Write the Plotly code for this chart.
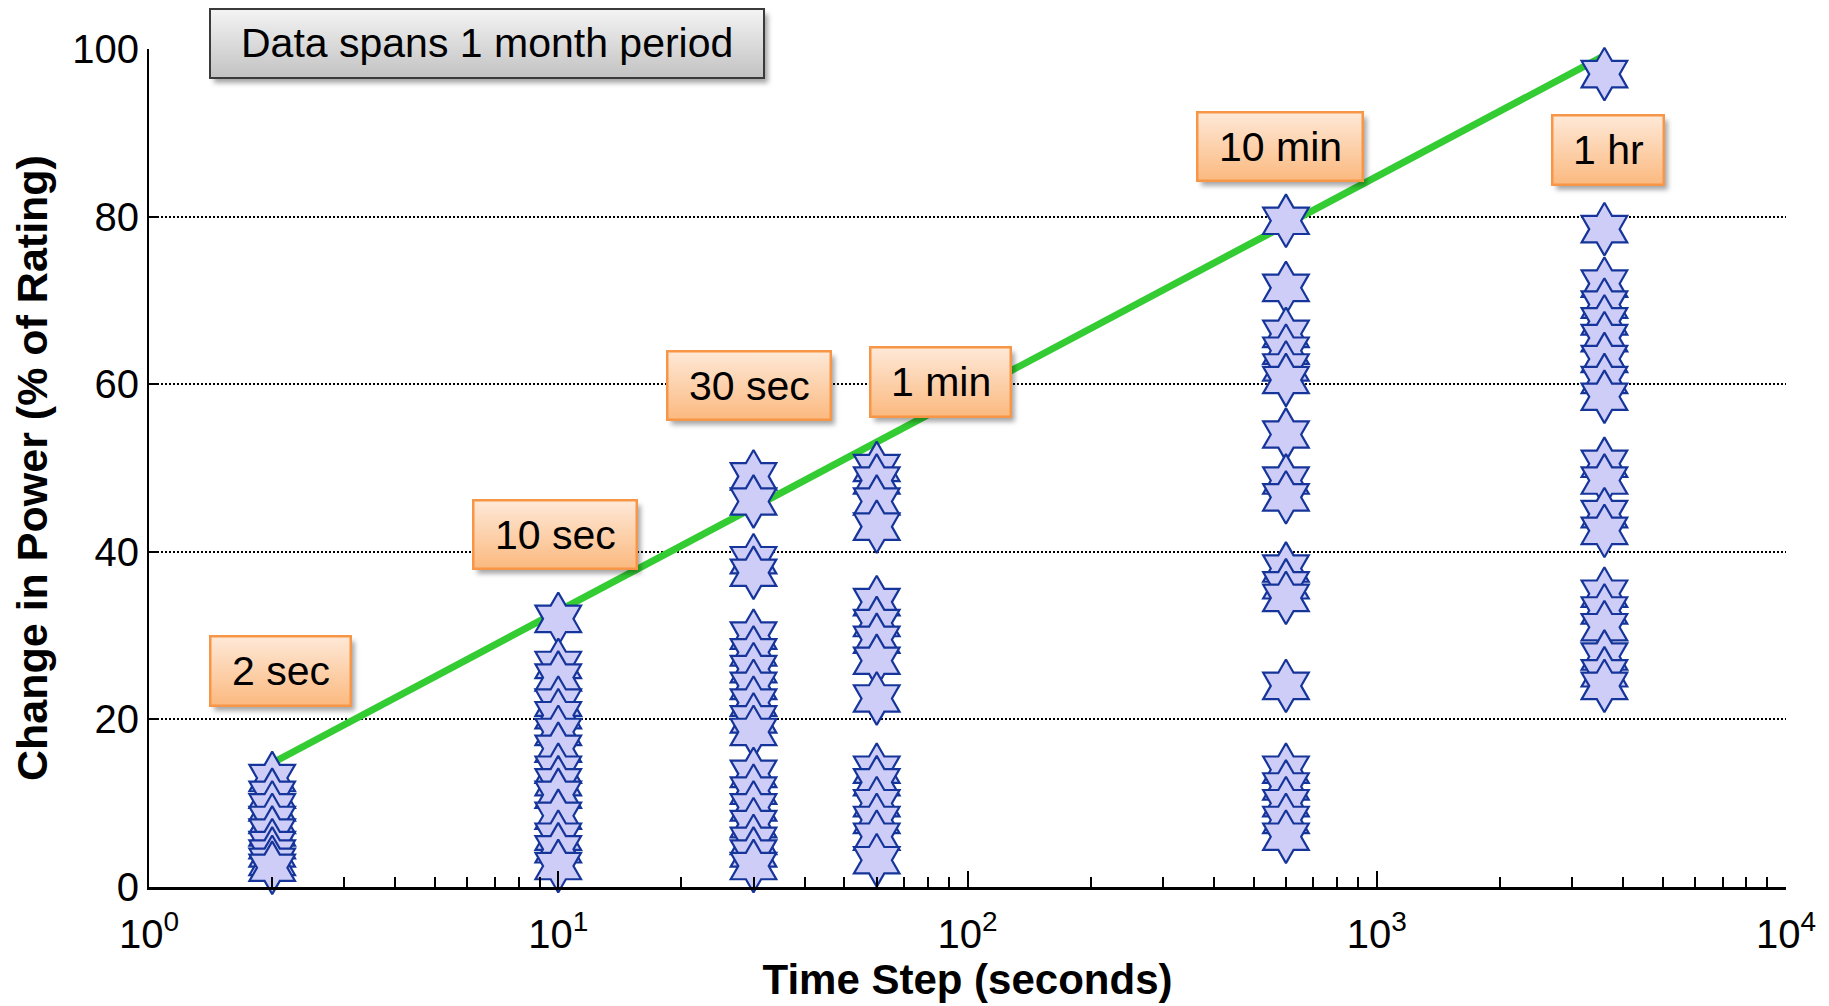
import base64
import plotly.graph_objects as go

# ---------------- data ----------------
time_steps = [2, 10, 30, 60, 600, 3600]
vals_2s = [13, 11, 9.5, 8, 6.5, 5, 4, 3, 2.3]
vals_10s = [32, 26.5, 25, 22, 20.5, 18.5, 16.5, 14, 12.5, 11, 8.5, 6, 4.5, 2.5]
vals_30s = [49, 46, 39, 37.5, 30, 28, 26, 24, 22, 20, 18.5, 13.5, 11.5, 9.5, 7.5, 5.5, 4, 2.5]
vals_1m = [50, 48.5, 46, 43, 34, 31.5, 29.5, 27, 22.5, 14, 12.5, 10, 8, 6, 3.2]
vals_10m = [79.5, 71.5, 66, 64, 62, 60.5, 54, 48.5, 46.5, 38, 36, 34.5, 24, 14, 12, 10, 8, 6]
vals_1h = [97, 78.5, 72, 69.5, 67.5, 65.5, 63, 60.5, 58.5, 50.5, 48.5, 44.5, 42.5, 35, 33, 31, 27.5, 25.5, 24]
all_vals = [vals_2s, vals_10s, vals_30s, vals_1m, vals_10m, vals_1h]

trend_x = [2, 3600]
trend_y = [14.8, 99.2]

box_labels = ["Data spans 1 month period", "2 sec", "10 sec", "30 sec", "1 min", "10 min", "1 hr"]
x_tick_vals = [1, 10, 100, 1000, 10000]
x_tick_text = ["10<sup>0</sup>", "10<sup>1</sup>", "10<sup>2</sup>", "10<sup>3</sup>", "10<sup>4</sup>"]
y_tick_vals = [0, 20, 40, 60, 80, 100]

# ---------------- layout constants (page pixels) ----------------
W, H = 1829, 1006
OFF = 8                      # default body margin of the html page
PLOT_L, PLOT_R, PLOT_T, PLOT_B = 149, 1786, 49, 887
PW, PH = PLOT_R - PLOT_L, PLOT_B - PLOT_T
FONT = "Liberation Sans, Arial, sans-serif"

# box placement in page pixels: left, top, width, height, style
box_geom = [
    (209, 8, 556, 71, "gray"),
    (209, 635, 143, 72, "orange"),
    (472, 499, 166, 71, "orange"),
    (666, 350, 166, 71, "orange"),
    (869, 346, 143, 72, "orange"),
    (1196, 111, 168, 71, "orange"),
    (1551, 114, 114, 72, "orange"),
]
styles = {
    "orange": ("#fee9d8", "#fbb97f", "#f79646", 2.5),
    "gray": ("#f4f4f4", "#c2c2c2", "#3a3a3a", 2),
}


def box_svg(w, h, top, bottom, stroke, sw, pad=10):
    svg = (
        f'<svg xmlns="http://www.w3.org/2000/svg" width="{w+pad}" height="{h+pad}" '
        f'viewBox="0 0 {w+pad} {h+pad}" preserveAspectRatio="none">'
        '<defs><linearGradient id="g" x1="0" y1="0" x2="0" y2="1">'
        f'<stop offset="0" stop-color="{top}"/><stop offset="1" stop-color="{bottom}"/>'
        '</linearGradient><filter id="f" x="-20%" y="-20%" width="140%" height="140%">'
        '<feGaussianBlur stdDeviation="2.5"/></filter></defs>'
        f'<rect x="{sw/2+4}" y="{sw/2+5}" width="{w-sw}" height="{h-sw}" fill="rgba(0,0,0,0.35)" filter="url(#f)"/>'
        f'<rect x="{sw/2}" y="{sw/2}" width="{w-sw}" height="{h-sw}" fill="url(#g)" stroke="{stroke}" stroke-width="{sw}"/>'
        '</svg>'
    )
    return "data:image/svg+xml;base64," + base64.b64encode(svg.encode()).decode()


fig = go.Figure()

fig.add_trace(go.Scatter(
    x=trend_x, y=trend_y, mode="lines",
    line=dict(color="#33cc33", width=7),
    hoverinfo="skip", showlegend=False,
))

for t, vals in zip(time_steps, all_vals):
    fig.add_trace(go.Scatter(
        x=[t] * len(vals), y=vals, mode="markers",
        marker=dict(symbol="hexagram", size=40, color="#cdcdf7",
                    line=dict(color="#16359a", width=2.2)),
        cliponaxis=False, showlegend=False,
    ))

images = []
annotations = []
pad = 10
for label, (left, top, bw, bh, style) in zip(box_labels, box_geom):
    c_top, c_bot, stroke, sw = styles[style]
    images.append(dict(
        source=box_svg(bw, bh, c_top, c_bot, stroke, sw, pad),
        xref="paper", yref="paper",
        x=(left - PLOT_L) / PW, y=(PLOT_B - top) / PH,
        sizex=(bw + pad) / PW, sizey=(bh + pad) / PH,
        xanchor="left", yanchor="top", sizing="stretch", layer="above",
    ))
    annotations.append(dict(
        text=label, xref="paper", yref="paper",
        x=(left + bw / 2 - PLOT_L) / PW, y=(PLOT_B - top - bh / 2) / PH,
        xanchor="center", yanchor="middle", showarrow=False,
        font=dict(family=FONT, size=41, color="black"),
    ))

fig.update_layout(
    width=W - OFF, height=H - OFF,
    margin=dict(l=PLOT_L - OFF, r=W - PLOT_R, t=PLOT_T - OFF, b=H - PLOT_B),
    paper_bgcolor="white", plot_bgcolor="white",
    font=dict(family=FONT, color="black"),
    images=images, annotations=annotations,
    showlegend=False,
)

fig.update_xaxes(
    type="log", range=[0, 4],
    tickmode="array", tickvals=x_tick_vals, ticktext=x_tick_text,
    ticks="inside", ticklen=16, tickwidth=2, tickcolor="black",
    ticklabelstandoff=10,
    minor=dict(ticks="inside", ticklen=10, tickwidth=1.5, tickcolor="black",
               tickmode="array",
               tickvals=[d * 10 ** e for e in range(4) for d in range(2, 10)],
               showgrid=False),
    showgrid=False, zeroline=False,
    showline=True, linecolor="black", linewidth=3,
    tickfont=dict(family=FONT, size=40),
    title=dict(text="<b>Time Step (seconds)</b>", font=dict(family=FONT, size=42), standoff=10),
)
fig.update_yaxes(
    range=[0, 100], tickmode="array", tickvals=y_tick_vals,
    ticks="inside", ticklen=10, tickwidth=1.5, tickcolor="black",
    showgrid=True, gridcolor="black", gridwidth=1.5, griddash="2px,2px",
    zeroline=False, showline=True, linecolor="black", linewidth=2,
    tickfont=dict(family=FONT, size=40),
    title=dict(text="<b>Change in Power (% of Rating)</b>", font=dict(family=FONT, size=43), standoff=19),
)

fig.write_html("out.html")
